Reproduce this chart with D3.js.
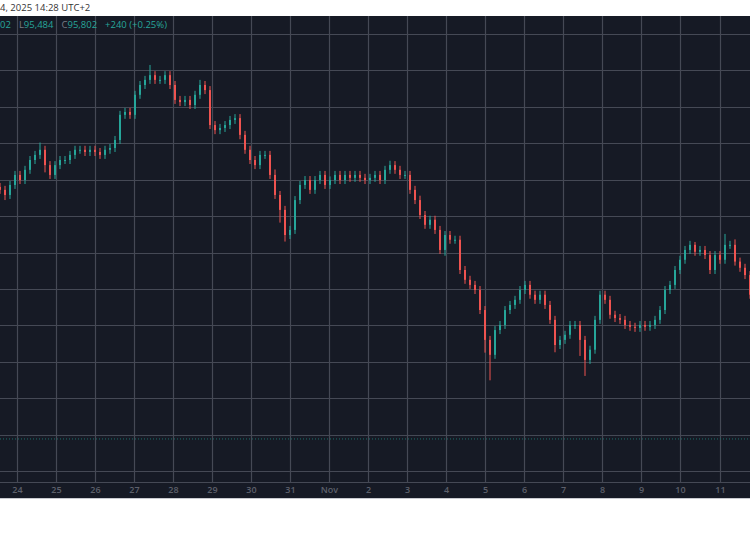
<!DOCTYPE html>
<html><head><meta charset="utf-8">
<script src="https://cdn.jsdelivr.net/npm/d3@7"></script>
<style>body{margin:0;background:#fff;font-family:"Open Sans",sans-serif}</style>
</head><body><svg id="c" width="750" height="536"></svg>
<script>
const dayLabels = ["24","25","26","27","28","29","30","31","Nov","2","3","4","5","6","7","8","9","10","11"];
const closes = [98720,98580,98855,99130,98990,99270,99540,99680,99820,99400,99130,99400,99540,99540,99680,99820,99820,99760,99820,99760,
99680,99820,99870,100090,100780,100860,100780,101330,101600,101740,101870,101740,101740,101870,101600,101190,101130,101190,101050,101330,
101600,101460,100500,100360,100420,100500,100640,100690,100230,99820,99540,99400,99680,99680,99130,98580,98170,97480,97620,98440,
98855,98990,98720,98990,99130,98855,98990,99130,98990,99130,99050,99130,99050,98990,99050,99130,98990,99270,99400,99270,
99130,99130,98720,98440,98030,97760,97900,97620,97070,97480,97350,97350,96520,96250,96110,95970,95420,94600,94190,94870,
95010,95420,95560,95700,95970,96110,95840,95700,95840,95560,95150,94460,94600,94740,95010,95010,94600,94050,94330,95150,
95840,95700,95290,95200,95150,95010,94960,94930,95010,94960,95010,95150,95420,95970,96110,96520,96800,97070,97210,97020,
97070,96930,96520,96930,96800,97210,97210,96750,96580,96380,95840];
// extra wick extents (price units above max(o,c) / below min(o,c))
const wickUp = {8:200,30:280,40:140,55:150,66:100,78:120,84:120,139:80,145:300,147:150};
const wickDown = {1:140,9:200,48:120,56:350,57:180,89:160,97:350,98:700,111:200,116:440,117:440,152:150};
const nowPrice = 91880;
const legendParts = [["02","#26a69a",0],["L","#787b86",8],["95,484","#26a69a",0],["C","#787b86",8],["95,802","#26a69a",0],["+240 (+0.25%)","#26a69a",8]];
const headerText = "4, 2025 14:28 UTC+2";

const svg = d3.select("#c");
const plotTop = 16, outBottom = 498, plotBottom = 482;
svg.append("rect").attr("x",0).attr("y",plotTop).attr("width",750).attr("height",outBottom-plotTop).attr("fill","#161a25");
svg.append("line").attr("x1",0).attr("x2",750).attr("y1",outBottom+0.5).attr("y2",outBottom+0.5).attr("stroke","#c8cad0");

const y = d3.scaleLinear().domain([91000,103000]).range([471,34]);
const xDay = d3.scaleLinear().domain([0,18]).range([17,719.5]);
const x = d3.scaleLinear().domain([0,closes.length-1]).range([0,750]);

const g = svg.append("g");
const gridCol = "#454955";
d3.range(91000,103001,1000).forEach(v=>{
  const yy = Math.round(y(v))+0.5;
  g.append("line").attr("x1",0).attr("x2",750).attr("y1",yy).attr("y2",yy).attr("stroke",gridCol).attr("stroke-width",1.2);
});
dayLabels.forEach((d,i)=>{
  const xx = Math.round(xDay(i))+0.5;
  g.append("line").attr("x1",xx).attr("x2",xx).attr("y1",plotTop).attr("y2",plotBottom).attr("stroke",gridCol).attr("stroke-width",1.2);
  svg.append("text").attr("x",xx).attr("y",493).attr("text-anchor","middle").attr("fill","#5d606b").attr("font-size",9).attr("font-weight",600).text(d);
});
g.append("line").attr("x1",0).attr("x2",750).attr("y1",plotBottom+0.5).attr("y2",plotBottom+0.5).attr("stroke",gridCol).attr("stroke-width",1.2);
g.append("line").attr("x1",0).attr("x2",750).attr("y1",y(nowPrice)).attr("y2",y(nowPrice)).attr("stroke","#1c6f6a").attr("stroke-dasharray","1,2");

const cg = svg.append("g");
closes.forEach((c,i)=>{
  const o = i===0 ? 98800 : closes[i-1];
  const hi = Math.max(o,c)+(wickUp[i]||110), lo = Math.min(o,c)-(wickDown[i]||110);
  const col = c>=o ? "#26a69a" : "#ef5350";
  const xx = x(i);
  cg.append("line").attr("x1",xx).attr("x2",xx).attr("y1",y(hi)).attr("y2",y(lo)).attr("stroke",col).attr("stroke-width",1);
  cg.append("rect").attr("x",xx-1).attr("width",2).attr("y",y(Math.max(o,c))).attr("height",Math.max(1,Math.abs(y(o)-y(c)))).attr("fill",col);
});

svg.append("text").attr("x",0).attr("y",11).attr("fill","#333").attr("font-size",9.5).text(headerText);
const lt = svg.append("text").attr("x",0).attr("y",28).attr("font-size",9.5);
legendParts.forEach(p=>lt.append("tspan").attr("dx",p[2]).attr("fill",p[1]).text(p[0]));
</script></body></html>
